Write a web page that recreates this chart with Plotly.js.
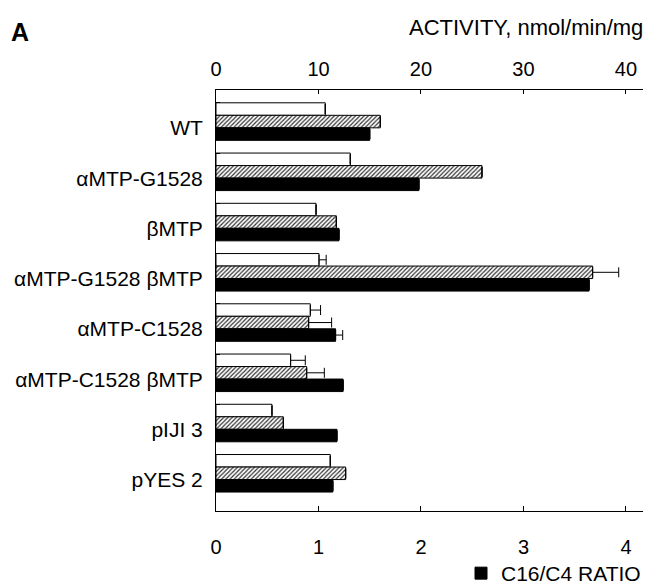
<!DOCTYPE html>
<html>
<head>
<meta charset="utf-8">
<script src="https://cdn.plot.ly/plotly-3.0.1.min.js"></script>
<style>
  html, body { margin: 0; padding: 0; background: #fff; }
  #chart { width: 646px; height: 587px; }
</style>
</head>
<body>
<div id="chart"></div>
<script>
// ---- data ----
const categories = ["WT", "αMTP-G1528", "βMTP", "αMTP-G1528 βMTP", "αMTP-C1528", "αMTP-C1528 βMTP", "pIJI 3", "pYES 2"];
const openActivity    = [10.66, 13.1, 9.76, 10.05, 9.2, 7.28, 5.46, 11.15];   // white bars (top axis)
const hatchedActivity = [16.03, 25.95, 11.74, 36.75, 9.04, 8.85, 6.57, 12.65]; // hatched bars (top axis)
const ratioC16C4      = [1.50, 1.98, 1.20, 3.64, 1.167, 1.24, 1.18, 1.14];   // black bars (bottom axis)
const openErr    = [null, null, null, 0.7, 1.0, 1.43, null, null];
const hatchedErr = [null, null, null, 2.54, 2.24, 1.72, null, null];
const ratioErr   = [null, null, null, null, 0.069, null, null, null];
const activityTicks = [0, 10, 20, 30, 40];
const ratioTicks = [0, 1, 2, 3, 4];

const FONT = "Liberation Sans, Arial, Helvetica, sans-serif";
const zeros = categories.map(() => 0);
const barW = 0.249;

function errs(arr) {
  return { type: "data", symmetric: false, array: arr, arrayminus: zeros,
           color: "#000", thickness: 1, width: 5 };
}

const traces = [
  { type: "bar", orientation: "h", name: "C16 activity", y: categories, x: openActivity,
    xaxis: "x", yaxis: "y", width: barW, offset: -0.5, showlegend: false,
    marker: { color: "#fff", line: { color: "#000", width: 1 } },
    error_x: errs(openErr) },
  { type: "bar", orientation: "h", name: "C4 activity", y: categories, x: hatchedActivity,
    xaxis: "x", yaxis: "y", width: barW, offset: -0.251, showlegend: false,
    marker: { color: "#fff", line: { color: "#000", width: 1 },
              pattern: { shape: "/", size: 3, solidity: 0.4, fgcolor: "#333", bgcolor: "#fff" } },
    error_x: errs(hatchedErr) },
  { type: "bar", orientation: "h", name: "C16/C4 RATIO", y: categories, x: ratioC16C4,
    xaxis: "x2", yaxis: "y", width: barW, offset: -0.002, showlegend: true,
    marker: { color: "#000", line: { color: "#000", width: 1 } },
    error_x: errs(ratioErr) }
];

const layout = {
  width: 646, height: 587,
  margin: { l: 216, r: 3, t: 90, b: 75.5 },
  paper_bgcolor: "#fff", plot_bgcolor: "#fff",
  font: { family: FONT, size: 20, color: "#000" },
  barmode: "overlay",
  showlegend: true,
  legend: { xref: "container", yref: "container", x: 1, xanchor: "right",
            y: (587 - 573.5) / 587, yanchor: "middle",
            orientation: "h", font: { family: FONT, size: 21, color: "#000" },
            bgcolor: "rgba(0,0,0,0)", borderwidth: 0 },
  xaxis: {
    side: "top", anchor: "y", range: [0, 41.66], autorange: false,
    tickvals: activityTicks, ticktext: activityTicks.map(String),
    ticks: "inside", ticklen: 4, tickcolor: "#000", tickwidth: 1,
    showline: true, linecolor: "#000", linewidth: 1,
    showgrid: false, zeroline: false, fixedrange: true,
    tickfont: { family: FONT, size: 20 }, ticklabelstandoff: 5
  },
  xaxis2: {
    side: "bottom", anchor: "y", overlaying: "x", range: [0, 4.166], autorange: false,
    tickvals: ratioTicks, ticktext: ratioTicks.map(String),
    ticks: "inside", ticklen: 5, tickcolor: "#000", tickwidth: 1,
    showline: true, linecolor: "#000", linewidth: 1,
    showgrid: false, zeroline: false, fixedrange: true,
    tickfont: { family: FONT, size: 20 }, ticklabelstandoff: 18
  },
  yaxis: {
    type: "category", categoryorder: "array", categoryarray: categories,
    range: [7.624, -0.755], autorange: false,
    ticks: "inside", tickson: "boundaries", ticklen: 4, tickcolor: "#000", tickwidth: 1,
    showline: true, linecolor: "#000", linewidth: 1,
    showgrid: false, zeroline: false, fixedrange: true,
    tickfont: { family: FONT, size: 21 }, ticklabelstandoff: 8
  },
  annotations: [
    { text: "<b>A</b>", xref: "paper", yref: "paper", x: (9 - 216) / 427, y: 1 + (90 - 31.5) / 421.5,
      xanchor: "left", yanchor: "middle", showarrow: false,
      font: { family: FONT, size: 25, color: "#000" } },
    { text: "ACTIVITY, nmol/min/mg", xref: "paper", yref: "paper", x: (645 - 216) / 427, y: 1 + (90 - 27.5) / 421.5,
      xanchor: "right", yanchor: "middle", showarrow: false,
      font: { family: FONT, size: 22, color: "#000" } }
  ]
};

Plotly.newPlot("chart", traces, layout, { displayModeBar: false, staticPlot: true });
</script>
</body>
</html>
